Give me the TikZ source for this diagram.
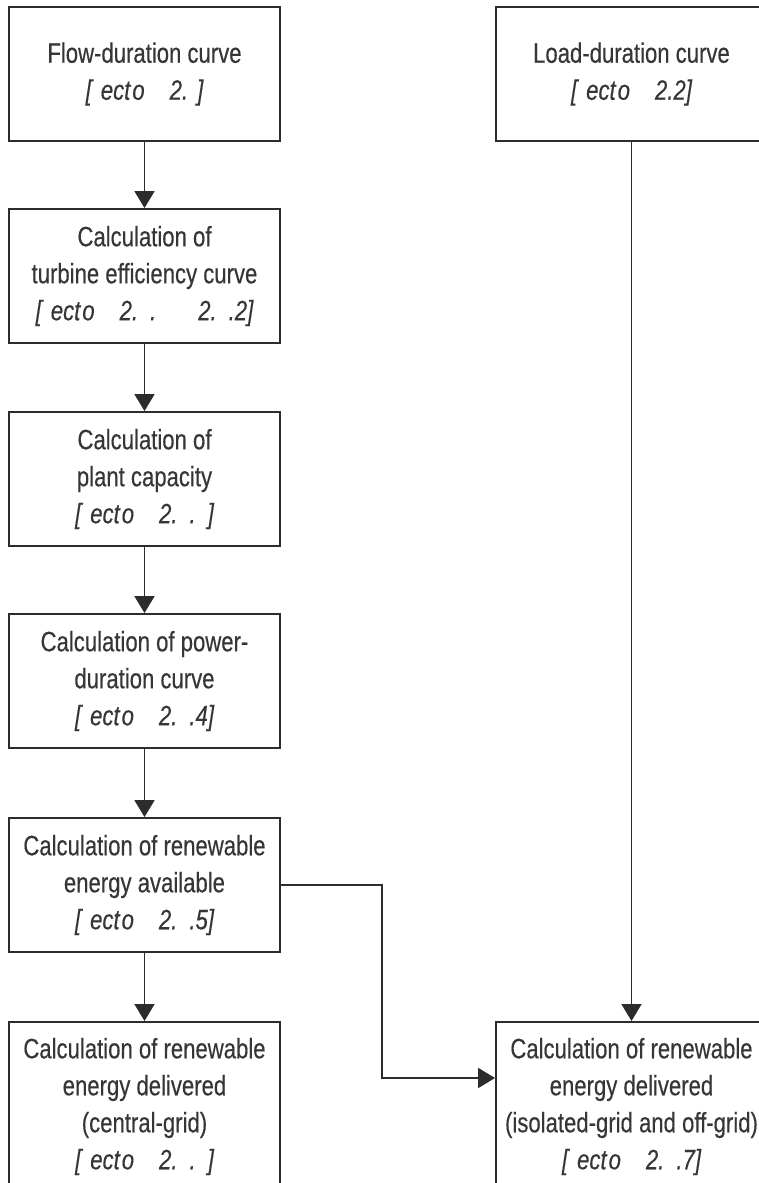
\documentclass[tikz,border=0pt]{standalone}
\usepackage{fontspec}
\setmainfont[FakeStretch=0.79,FakeBold=0.35]{Liberation Sans}
\usetikzlibrary{arrows.meta}
\definecolor{lc}{HTML}{2C2C2C}
\definecolor{tc}{HTML}{363636}
\newcommand{\sect}[1]{\itshape [\hspace{9pt}ect\hspace{2pt}o\hspace{25pt}#1]}
\tikzset{
  box/.style={draw=lc, line width=1.9pt, minimum width=271pt, minimum height=134pt,
    align=center, inner xsep=0pt, inner ysep=0pt, text=tc, font=\fontsize{28}{37}\selectfont},
  cutbox/.style={box, anchor=north, minimum height=0pt, inner ysep=16pt},
  arr/.style={draw=lc, line width=1.9pt, line join=miter, -{Triangle[width=20pt,length=17pt]}}
}
\begin{document}
\begin{tikzpicture}[x=1pt,y=-1pt]
\useasboundingbox (0,0) rectangle (759,1183);
\clip (0,0) rectangle (759,1183);
\node[box] (b1) at (144.5,74) {Flow-duration curve\\ \sect{2.\hspace{9pt}}};
\node[box] (b2) at (144.5,276) {Calculation of\\ turbine efficiency curve\\ \sect{2.\hspace{12pt}.\hspace{42pt}2.\hspace{12pt}.2}};
\node[box] (b3) at (144.5,479) {Calculation of\\ plant capacity\\ \sect{2.\hspace{12pt}.\hspace{12pt}}};
\node[box] (b4) at (144.5,681) {Calculation of power-\\ duration curve\\ \sect{2.\hspace{12pt}.4}};
\node[box] (b5) at (144.5,885) {Calculation of renewable\\ energy available\\ \sect{2.\hspace{12pt}.5}};
\node[cutbox] (b6) at (144.5,1021) {Calculation of renewable\\ energy delivered\\ (central-grid)\\ \sect{2.\hspace{12pt}.\hspace{12pt}}};
\node[box] (r1) at (631.5,74) {Load-duration curve\\ \sect{2.2}};
\node[cutbox] (r2) at (631.5,1021) {Calculation of renewable\\ energy delivered\\ (isolated-grid and off-grid)\\ \sect{2.\hspace{12pt}.7}};
\coordinate (k) at (382,1078);
\draw[arr] (b1.south) -- (b2.north);
\draw[arr] (b2.south) -- (b3.north);
\draw[arr] (b3.south) -- (b4.north);
\draw[arr] (b4.south) -- (b5.north);
\draw[arr] (b5.south) -- (b6.north);
\draw[arr] (r1.south) -- (r2.north);
\draw[arr] (b5.east) -| (k) -- (k -| r2.west);
\end{tikzpicture}
\end{document}
